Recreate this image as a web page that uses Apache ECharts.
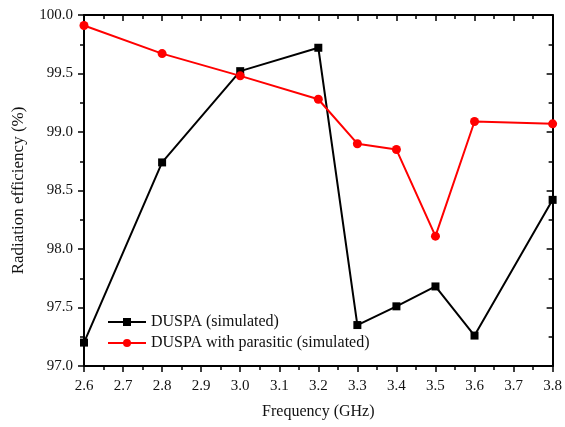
<!DOCTYPE html>
<html>
<head>
<meta charset="utf-8">
<script src="https://cdn.jsdelivr.net/npm/echarts@6/dist/echarts.min.js"></script>
<style>
  html, body { margin: 0; padding: 0; background: #fff; }
  #chart { width: 565px; height: 427px; }
</style>
</head>
<body>
<div id="chart"></div>
<script>
// frequency points (GHz)
var freqs = [2.6, 2.8, 3.0, 3.2, 3.3, 3.4, 3.5, 3.6, 3.8];
var duspa = [97.20, 98.74, 99.52, 99.72, 97.35, 97.51, 97.68, 97.26, 98.42];
var duspaParasitic = [99.91, 99.67, 99.48, 99.28, 98.90, 98.85, 98.11, 99.09, 99.07];
var seriesNames = ['DUSPA (simulated)', 'DUSPA with parasitic (simulated)'];

function pairs(ys) {
    return freqs.map(function (f, i) { return [f, ys[i]]; });
}

var font = 'Liberation Serif';
var chart = echarts.init(document.getElementById('chart'));

var axisLine = { show: true, onZero: false, lineStyle: { color: '#000', width: 2 } };
// left/bottom: ticks point out, top/right: ticks point into the plot
var tickOut = { show: true, inside: false, length: 6, lineStyle: { color: '#000', width: 1.5 } };
var tickIn = { show: true, inside: true, length: 6, lineStyle: { color: '#000', width: 1.5 } };
var minor = { show: true, splitNumber: 2, length: 4, lineStyle: { color: '#000', width: 1.5 } };

var option = {
    backgroundColor: '#fff',
    animation: false,
    grid: { left: 84, right: 9, top: 15, bottom: 61 },
    legend: {
        orient: 'vertical',
        left: 102,
        top: 309,
        itemWidth: 38,
        itemHeight: 10,
        itemGap: 5,
        textStyle: { fontFamily: font, fontSize: 16, color: '#111' },
        data: seriesNames
    },
    xAxis: [{
        type: 'value',
        min: 2.6, max: 3.8, interval: 0.1,
        name: 'Frequency (GHz)',
        nameLocation: 'middle',
        nameGap: 38,
        nameTextStyle: { fontFamily: font, fontSize: 16, color: '#111' },
        axisLine: axisLine,
        axisTick: tickOut,
        minorTick: minor,
        splitLine: { show: false },
        axisLabel: {
            fontFamily: font, fontSize: 15, color: '#111', margin: 13,
            formatter: function (v) { return v.toFixed(1); }
        }
    }, {
        type: 'value', position: 'top',
        min: 2.6, max: 3.8, interval: 0.1,
        axisLine: axisLine, axisTick: tickIn, minorTick: minor,
        splitLine: { show: false }, axisLabel: { show: false }
    }],
    yAxis: [{
        type: 'value',
        min: 97, max: 100, interval: 0.5,
        name: 'Radiation efficiency (%)',
        nameLocation: 'middle',
        nameGap: 57,
        nameTextStyle: { fontFamily: font, fontSize: 17, color: '#111' },
        axisLine: axisLine,
        axisTick: tickOut,
        minorTick: minor,
        splitLine: { show: false },
        axisLabel: {
            fontFamily: font, fontSize: 15, color: '#111', margin: 11,
            formatter: function (v) { return v.toFixed(1); }
        }
    }, {
        type: 'value', position: 'right',
        min: 97, max: 100, interval: 0.5,
        axisLine: axisLine, axisTick: tickIn, minorTick: minor,
        splitLine: { show: false }, axisLabel: { show: false }
    }],
    series: [{
        name: seriesNames[0],
        type: 'line',
        data: pairs(duspa),
        symbol: 'rect',
        symbolSize: 8,
        lineStyle: { color: '#000', width: 2 },
        itemStyle: { color: '#000' }
    }, {
        name: seriesNames[1],
        type: 'line',
        data: pairs(duspaParasitic),
        symbol: 'circle',
        symbolSize: 9,
        lineStyle: { color: '#ff0000', width: 2 },
        itemStyle: { color: '#ff0000' }
    }]
};

chart.setOption(option);
</script>
</body>
</html>
